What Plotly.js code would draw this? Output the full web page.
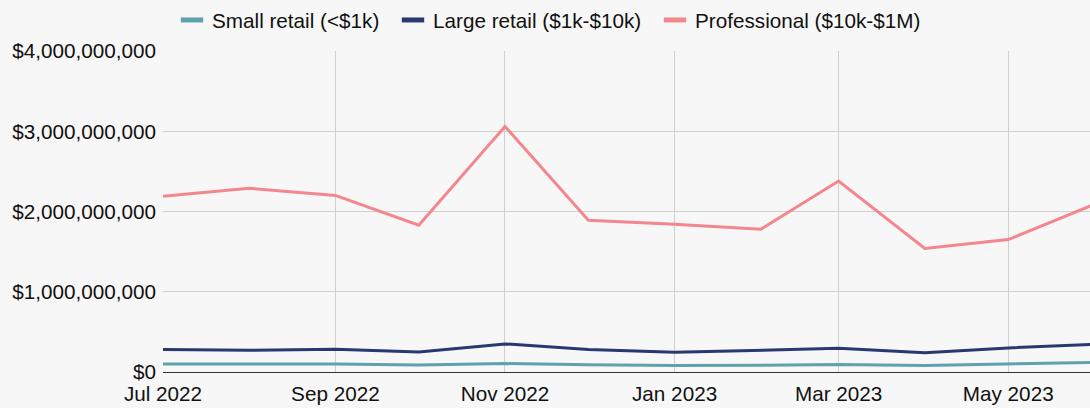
<!DOCTYPE html>
<html>
<head>
<meta charset="utf-8">
<script src="https://cdn.plot.ly/plotly-3.0.1.min.js"></script>
<style>
html,body{margin:0;padding:0;background:#f7f7f7;}
#chart{width:1090px;height:408px;}
</style>
</head>
<body>
<div id="chart"></div>
<script>
var months = ['2022-07-01','2022-08-01','2022-09-01','2022-10-01','2022-11-01','2022-12-01',
              '2023-01-01','2023-02-01','2023-03-01','2023-04-01','2023-05-01','2023-06-01'];
var smallRetail  = [0.10e9, 0.10e9, 0.10e9, 0.087e9, 0.105e9, 0.09e9, 0.08e9, 0.085e9, 0.095e9, 0.08e9, 0.095e9, 0.12e9];
var largeRetail  = [0.28e9, 0.27e9, 0.285e9, 0.25e9, 0.35e9, 0.28e9, 0.245e9, 0.27e9, 0.295e9, 0.24e9, 0.30e9, 0.345e9];
var professional = [2.19e9, 2.29e9, 2.20e9, 1.83e9, 3.06e9, 1.89e9, 1.84e9, 1.78e9, 2.38e9, 1.54e9, 1.65e9, 2.09e9];
var seriesNames  = ['Small retail (<$1k)', 'Large retail ($1k-$10k)', 'Professional ($10k-$1M)'];
var seriesColors = ['#5fa2ae', '#283870', '#f4868e'];

var font = {family: 'Liberation Sans, Arial, sans-serif', size: 20.7, color: '#111'};
var values = [smallRetail, largeRetail, professional];
var legendIds = ['legend', 'legend2', 'legend3'];
var legendX = [172, 393, 655];   // left edge of each legend entry, px
var traces = [];
values.forEach(function(v, i){
  traces.push({x: months, y: v, type: 'scatter', mode: 'lines', name: seriesNames[i],
          legendgroup: 'g' + i, showlegend: false,
          line: {color: seriesColors[i], width: 3}, hoverinfo: 'x+y'});
});
// legend-only entries (no data drawn) so the legend key is a short thick bar
values.forEach(function(v, i){
  traces.push({x: [null], y: [null], type: 'scatter', mode: 'markers', name: seriesNames[i],
          legendgroup: 'g' + i, showlegend: true, legend: legendIds[i],
          marker: {symbol: 'line-ew', size: 20, color: seriesColors[i],
                   line: {color: seriesColors[i], width: 6}}});
});

var layout = {
  width: 1090, height: 408,
  paper_bgcolor: '#f7f7f7', plot_bgcolor: '#f7f7f7',
  font: font,
  margin: {l: 163, r: 0, t: 51, b: 36, pad: 0},
  showlegend: true,
  xaxis: {type: 'date', range: ['2022-07-01', '2023-05-30 10:00'],
          tick0: '2022-07-01', dtick: 'M2', tickformat: '%b %Y',
          showgrid: true, gridcolor: '#d0d0d0', gridwidth: 1,
          showline: true, linecolor: '#333', linewidth: 1.2, zeroline: false,
          ticks: '', tickfont: font, ticklabelstandoff: 3},
  yaxis: {range: [0, 4e9], dtick: 1e9, tick0: 0, tickprefix: '$', tickformat: ',.0f',
          showgrid: true, gridcolor: '#d0d0d0', gridwidth: 1, zeroline: false,
          showline: false, ticks: '', tickfont: font, ticklabelstandoff: 6}
};
legendIds.forEach(function(id, i){
  layout[id] = {orientation: 'h', xref: 'container', yref: 'container',
                x: legendX[i] / 1090, xanchor: 'left', y: 1, yanchor: 'top',
                font: font, bgcolor: 'rgba(0,0,0,0)', borderwidth: 0};
});
Plotly.newPlot('chart', traces, layout, {displayModeBar: false, staticPlot: true});
</script>
</body>
</html>
